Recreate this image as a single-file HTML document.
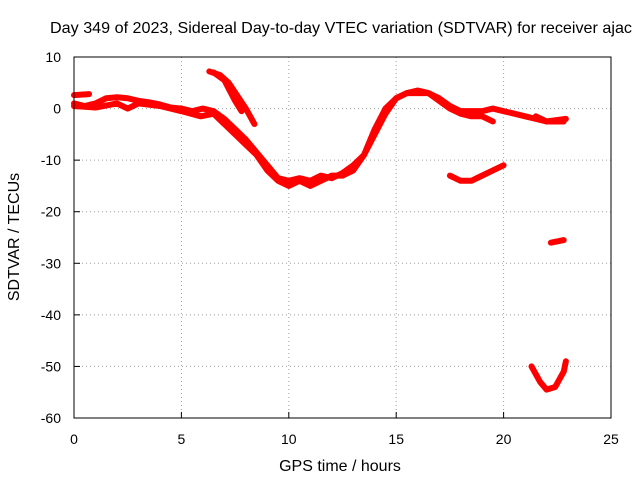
<!DOCTYPE html>
<html><head><meta charset="utf-8"><style>
body{margin:0;background:#fff}
svg{display:block;font-family:"Liberation Sans",sans-serif}
</style></head><body>
<svg id="c" width="640" height="480">
<rect width="640" height="480" fill="#fff"/>
<text x="50" y="33" font-size="16" textLength="582" lengthAdjust="spacingAndGlyphs">Day 349 of 2023, Sidereal Day-to-day VTEC variation (SDTVAR) for receiver ajac</text>
<text x="340" y="471" font-size="16" text-anchor="middle">GPS time / hours</text>
<text transform="translate(19,237) rotate(-90)" font-size="16" text-anchor="middle">SDTVAR / TECUs</text>
<g id="grid"></g><g id="ticks"></g><g id="marks"></g>
<rect x="74" y="57" width="537" height="361" fill="none" stroke="#000" stroke-width="1"/>
</svg>
<script>
const xTicks=[0,5,10,15,20,25];
const yTicks=[10,0,-10,-20,-30,-40,-50,-60];
const mainH=[0,0.5,1,1.5,2,2.5,3,3.5,4,4.5,5,5.5,6,6.5,7,7.5,8,8.5,9,9.5,10,10.5,11,11.5,12,12.5,13,13.5,14,14.5,15,15.5,16,16.5,17,17.5,18,18.5,19,19.5];
const mainV=[1,0.5,1,2,2.2,2,1.5,1.2,0.8,0.2,0,-0.5,0,-0.5,-2,-4,-6,-8.5,-11,-13.5,-14,-13.5,-14,-13,-13.5,-12.5,-11,-9,-5,-1,2,3,3,3,1.5,0,-1,-1.5,-1.5,-2.5];
const lowH=[0,1,2,2.5,3,4,5,5.9,6.5,7,7.5,8,8.5,9,9.5,10,10.5,11,11.5,12,12.5,13,13.5,14,14.5,15,15.5,16,16.5,17,17.5,18,18.5,19,19.5,20,20.5,21,21.5,22,22.8];
const lowV=[0.5,0.2,1,0,1,0.5,-0.5,-1.5,-1,-3,-5,-7,-9,-12,-14,-15,-14,-15,-14,-13,-13,-12,-9,-4,0,2,3,3.5,3,2,0.5,-0.5,-0.5,-0.5,0,-0.5,-1,-1.5,-2,-2.5,-2.5];
const startH=[0,0.7];const startV=[2.6,2.8];
const arcAH=[6.3,6.8,7.2,7.6,8,8.4];const arcAV=[7.2,6.5,5,2.5,0,-3];
const arcBH=[6.5,7,7.5,7.8];const arcBV=[7,5.5,1.5,-0.5];
const dipH=[17.5,18,18.5,19,19.5,20];const dipV=[-13,-14,-14,-13,-12,-11];
const tailH=[21.5,22,22.9];const tailV=[-1.5,-2.5,-2];
const lowSegH=[22.2,22.8];const lowSegV=[-26,-25.5];
const bowlH=[21.3,21.7,22,22.4,22.8,22.9];const bowlV=[-50,-53,-54.5,-54,-51,-49];
const tracks=[[mainH,mainV],[lowH,lowV],[startH,startV],[arcAH,arcAV],[arcBH,arcBV],[dipH,dipV],[tailH,tailV],[lowSegH,lowSegV],[bowlH,bowlV]];
const X=h=>74+h*(537/25), Y=v=>57+(10-v)*(361/70);
const NS="http://www.w3.org/2000/svg";
const g=document.getElementById('grid'),t=document.getElementById('ticks'),m=document.getElementById('marks');
function mk(p,tag,a){const e=document.createElementNS(NS,tag);for(const k in a)e.setAttribute(k,a[k]);p.appendChild(e);return e;}
xTicks.forEach(v=>{
 if(v>0&&v<25){const l=mk(g,'line',{x1:X(v),x2:X(v),y1:57,y2:418,stroke:'#a0a0a0','stroke-dasharray':'1,3'});
 
 }
 const s=mk(t,'text',{x:X(v),y:444,'font-size':14,'text-anchor':'middle'});s.textContent=v;
 
 
 mk(t,'line',{x1:X(v),x2:X(v),y1:418,y2:412,stroke:'#000'});
});
yTicks.forEach(v=>{
 if(v<10&&v>-60){const l=mk(g,'line',{x1:74,x2:611,y1:Y(v),y2:Y(v),stroke:'#a0a0a0','stroke-dasharray':'1,3'});
 
 }
 const s=mk(t,'text',{x:61,y:Y(v)+5,'font-size':14,'text-anchor':'end'});s.textContent=v;
 
 
 mk(t,'line',{x1:74,x2:80,y1:Y(v),y2:Y(v),stroke:'#000'});
});
tracks.forEach(([hs,vs])=>{
 const pts=hs.map((h,i)=>X(h)+','+Y(vs[i])).join(' ');
 const p=mk(m,'polyline',{points:pts,fill:'none',stroke:'#ff0000','stroke-width':6,'stroke-linejoin':'round','stroke-linecap':'round'});
 
 
});
</script>
</body></html>
